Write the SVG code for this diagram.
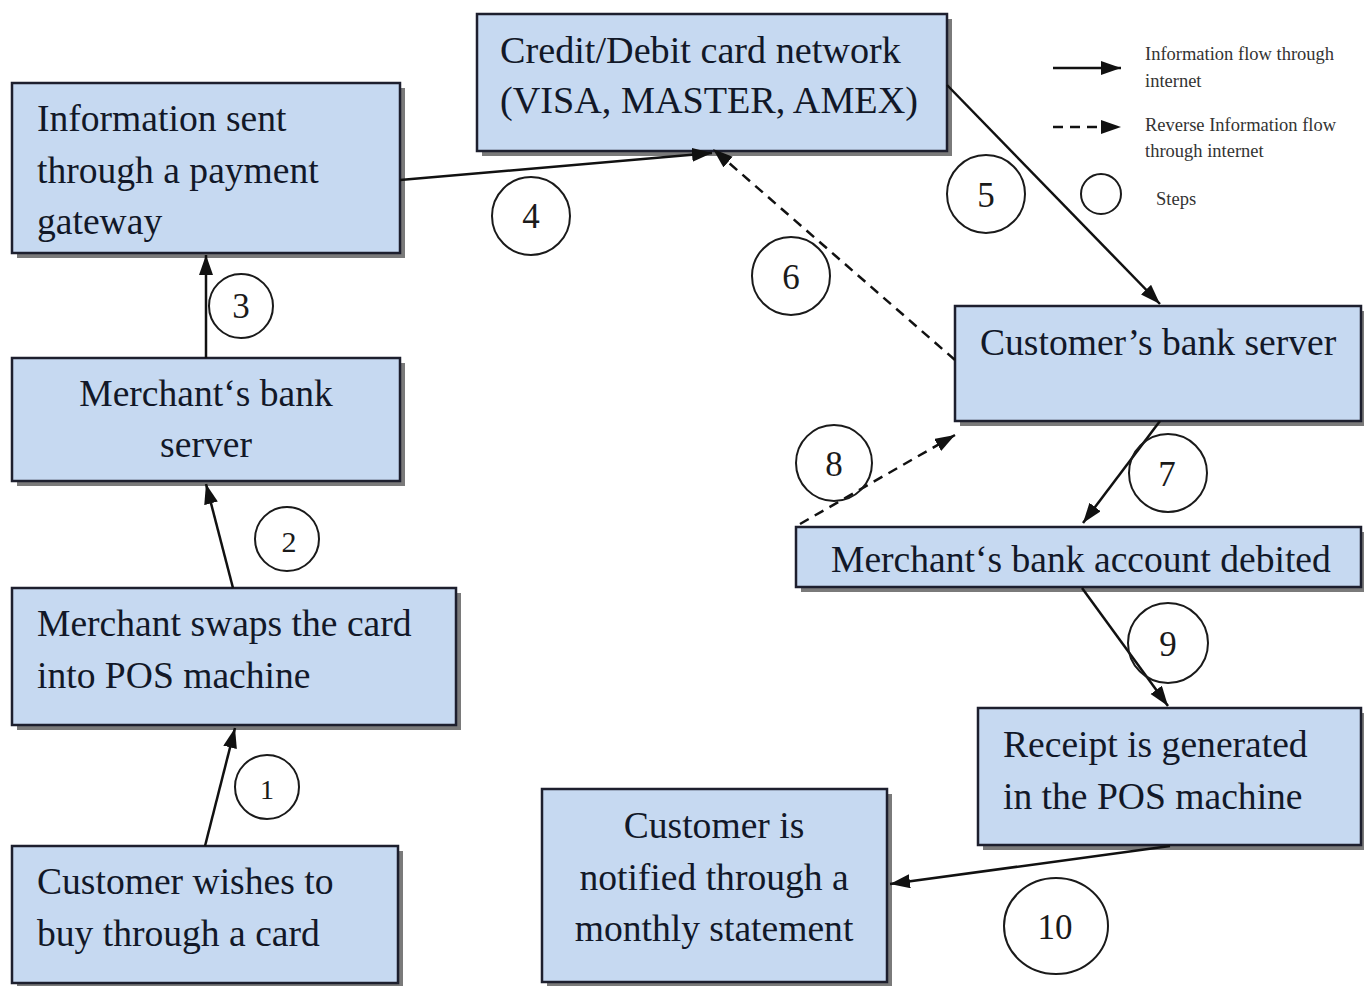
<svg xmlns="http://www.w3.org/2000/svg" width="1364" height="986" viewBox="0 0 1364 986">
  <style>
    .box { fill: #c6d9f1; stroke: #1d1f2e; stroke-width: 2.5; }
    .shadow { fill: #7a7a7a; }
    .t { font-family: "Liberation Serif", "Times New Roman", serif; font-size: 37.6px; fill: #121828; }
    .tc { text-anchor: middle; }
    .num { font-family: "Liberation Serif", "Times New Roman", serif; font-size: 35px; fill: #1a1a1a; text-anchor: middle; }
    .step { fill: none; stroke: #1a1a1a; stroke-width: 2; }
    .leg { font-family: "Liberation Serif", "Times New Roman", serif; font-size: 18.5px; fill: #333333; }
    .flow { fill: none; stroke: #111111; stroke-width: 2.5; marker-end: url(#head); }
    .rev { fill: none; stroke: #111111; stroke-width: 2.5; stroke-dasharray: 10 7; marker-end: url(#head); }
  </style>
  <defs>
    <marker id="head" markerUnits="userSpaceOnUse" markerWidth="22" markerHeight="16" refX="20" refY="7" orient="auto">
      <path d="M0,0 L20,7 L0,14 z" fill="#111111"/>
    </marker>
  </defs>

  <rect width="1364" height="986" fill="#ffffff"/>

  <!-- boxes -->
  <g id="node-gateway">
    <rect class="shadow" x="17" y="88" width="388" height="170"/>
    <rect class="box" x="12" y="83" width="388" height="170"/>
    <text class="t" x="37" y="131">Information sent</text>
    <text class="t" x="37" y="183">through a payment</text>
    <text class="t" x="37" y="234">gateway</text>
  </g>

  <g id="node-network">
    <rect class="shadow" x="482" y="19" width="470" height="137"/>
    <rect class="box" x="477" y="14" width="470" height="137"/>
    <text class="t" x="500" y="63" style="font-size:38.2px">Credit/Debit card network</text>
    <text class="t" x="500" y="113" style="font-size:38.2px">(VISA, MASTER, AMEX)</text>
  </g>

  <g id="node-merchant-server">
    <rect class="shadow" x="17" y="363" width="388" height="123"/>
    <rect class="box" x="12" y="358" width="388" height="123"/>
    <text class="t tc" x="206" y="406">Merchant‘s bank</text>
    <text class="t tc" x="206" y="457">server</text>
  </g>

  <g id="node-pos-swap">
    <rect class="shadow" x="17" y="593" width="444" height="137"/>
    <rect class="box" x="12" y="588" width="444" height="137"/>
    <text class="t" x="37" y="636">Merchant swaps the card</text>
    <text class="t" x="37" y="688">into POS machine</text>
  </g>

  <g id="node-customer-wish">
    <rect class="shadow" x="17" y="851" width="386" height="137"/>
    <rect class="box" x="12" y="846" width="386" height="137"/>
    <text class="t" x="37" y="894">Customer wishes to</text>
    <text class="t" x="37" y="946">buy through a card</text>
  </g>

  <g id="node-customer-server">
    <rect class="shadow" x="960" y="311" width="404" height="115"/>
    <rect class="box" x="955" y="306" width="406" height="115"/>
    <text class="t" x="980" y="355">Customer’s bank server</text>
  </g>

  <g id="node-debited">
    <rect class="shadow" x="801" y="532" width="563" height="60"/>
    <rect class="box" x="796" y="527" width="565" height="60"/>
    <text class="t" x="831" y="572">Merchant‘s bank account debited</text>
  </g>

  <g id="node-receipt">
    <rect class="shadow" x="983" y="713" width="381" height="137"/>
    <rect class="box" x="978" y="708" width="383" height="137"/>
    <text class="t" x="1003" y="757">Receipt is generated</text>
    <text class="t" x="1003" y="809">in the POS machine</text>
  </g>

  <g id="node-statement">
    <rect class="shadow" x="547" y="794" width="345" height="193"/>
    <rect class="box" x="542" y="789" width="345" height="193"/>
    <text class="t tc" x="714" y="838">Customer is</text>
    <text class="t tc" x="714" y="890">notified through a</text>
    <text class="t tc" x="714" y="941">monthly statement</text>
  </g>

  <!-- connectors, drawn over the box shadows -->
  <g id="connectors">
    <line class="flow" x1="205" y1="846" x2="235" y2="728"/>
    <line class="flow" x1="233" y1="588" x2="206" y2="484"/>
    <line class="flow" x1="206" y1="358" x2="206" y2="255"/>
    <line class="flow" x1="400" y1="180" x2="712" y2="153"/>
    <line class="flow" x1="947" y1="85" x2="1160" y2="304"/>
    <line class="rev" x1="955" y1="360" x2="713" y2="149"/>
    <line class="flow" x1="1160" y1="421" x2="1083" y2="523"/>
    <line class="rev" x1="800" y1="524" x2="955" y2="435"/>
    <line class="flow" x1="1082" y1="588" x2="1168" y2="706"/>
    <line class="flow" x1="1170" y1="846" x2="890" y2="884"/>
  </g>

  <!-- step markers -->
  <g id="steps">
    <g id="step-1"><circle class="step" cx="267" cy="787" r="32"/><text class="num" x="267" y="799" style="font-size:28px">1</text></g>
    <g id="step-2"><circle class="step" cx="287" cy="539" r="32"/><text class="num" x="289" y="552" style="font-size:30px">2</text></g>
    <g id="step-3"><circle class="step" cx="241" cy="306" r="32"/><text class="num" x="241" y="318">3</text></g>
    <g id="step-4"><circle class="step" cx="531" cy="216" r="39"/><text class="num" x="531" y="228">4</text></g>
    <g id="step-5"><circle class="step" cx="986" cy="194" r="39"/><text class="num" x="986" y="207">5</text></g>
    <g id="step-6"><circle class="step" cx="791" cy="276" r="39"/><text class="num" x="791" y="289">6</text></g>
    <g id="step-7"><circle class="step" cx="1168" cy="473" r="39"/><text class="num" x="1167" y="486">7</text></g>
    <g id="step-8"><circle class="step" cx="834" cy="463" r="38"/><text class="num" x="834" y="476">8</text></g>
    <g id="step-9"><circle class="step" cx="1168" cy="643" r="40"/><text class="num" x="1168" y="656">9</text></g>
    <g id="step-10"><ellipse class="step" cx="1056" cy="926" rx="52" ry="48"/><text class="num" x="1055" y="939">10</text></g>
  </g>

  <!-- legend -->
  <g id="legend">
    <line class="flow" x1="1053" y1="68" x2="1121" y2="68"/>
    <text class="leg" x="1145" y="60">Information flow through</text>
    <text class="leg" x="1145" y="87">internet</text>
    <line class="rev" x1="1053" y1="127" x2="1121" y2="127"/>
    <text class="leg" x="1145" y="131">Reverse Information flow</text>
    <text class="leg" x="1145" y="157">through internet</text>
    <circle class="step" cx="1101" cy="194" r="20"/>
    <text class="leg" x="1156" y="205">Steps</text>
  </g>
</svg>
